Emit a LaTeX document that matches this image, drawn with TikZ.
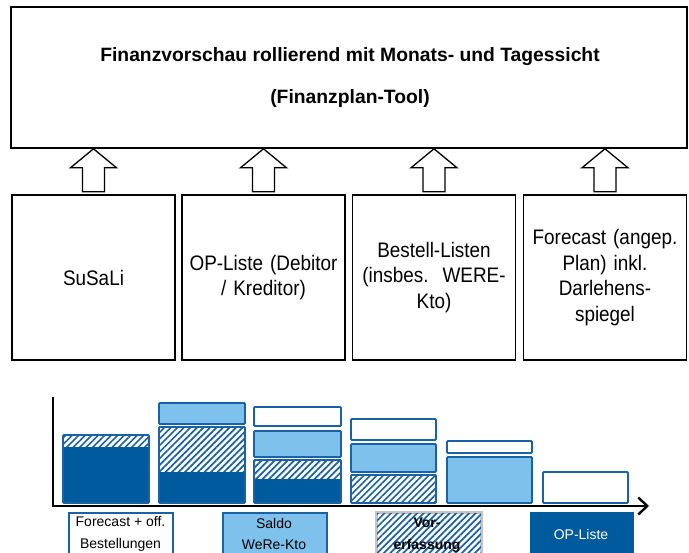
\documentclass[tikz,border=0pt]{standalone}
\usepackage{fontspec}
\setmainfont{Liberation Sans}
\newfontfamily\condfont[FakeStretch=0.9]{Liberation Sans}
\newcommand\srcfont{\condfont\fontsize{21}{25.7}\selectfont\fontdimen2\font=4.8pt\relax}
\usetikzlibrary{patterns,patterns.meta,arrows.meta}
\definecolor{dblue}{HTML}{005A9E}
\definecolor{lblue}{HTML}{7DC1EC}
\definecolor{bblue}{HTML}{1A62A6}
\definecolor{hgray}{HTML}{C4C4C4}
\tikzset{
  topbox/.style={draw=black, line width=1.6pt, minimum width=676pt, minimum height=141pt, inner sep=0pt},
  srcbox/.style={draw=black, line width=1.6pt, minimum width=163pt, minimum height=165pt, inner sep=0pt, text width=155pt, align=center, font=\srcfont},
  uparrow/.style={draw=black, line width=1.3pt, fill=white, line join=miter},
  barline/.style={draw=bblue, line width=1.8pt, rounded corners=1pt},
  hatch/.style={pattern={Lines[angle=45,distance=4.6pt,line width=1.7pt]}, pattern color=bblue},
  legbox/.style={minimum width=104pt, minimum height=50pt, inner sep=0pt, line width=1.8pt},
  legtext/.style={font=\fontsize{14}{21.5}\selectfont, align=center, inner sep=0pt},
  titletext/.style={font=\fontsize{19.3}{22}\selectfont\bfseries, inner sep=0pt},
  axis/.style={draw=black, line width=2.4pt}
}
\begin{document}
\begin{tikzpicture}[x=1pt,y=-1pt]
\useasboundingbox (0,0) rectangle (689,553);
\clip (0,0) rectangle (689,553);
\fill[white] (0,0) rectangle (689,553);

% top box
\node[topbox] (top) at (349,77.5) {};
\node[titletext] (t1) at (350,57) {Finanzvorschau rollierend mit Monats- und Tagessicht};
\node[titletext] (t2) at (350,99) {(Finanzplan-Tool)};

% source boxes
\node[srcbox] (b1) at (93.5,277.5) {SuSaLi};
\node[srcbox] (b2) at (263.5,277.5) {OP-Liste (Debitor\\/ Kreditor)};
\node[srcbox] (b3) at (434,277.5) {Bestell-Listen\\(insbes.\ \ WERE-\\Kto)};
\node[srcbox] (b4) at (605,277.5) {Forecast (angep.\\Plan) inkl.\\Darlehens-\\spiegel};

% block arrows
\foreach \n in {b1,b2,b3,b4}{
  \path (top.south -| \n.north) coordinate (tip\n);
  \draw[uparrow] (tip\n) -- ++(23,19) -- ++(-12,0) -- ++(0,24) -- ++(-22,0) -- ++(0,-24) -- ++(-12,0) -- cycle;
}

% chart bars
% bar 1
\fill[dblue] (63,447) rectangle (149,503);
\fill[white] (63,435) rectangle (149,447);
\fill[hatch] (63,435) rectangle (149,447);
\draw[barline] (63,435) rectangle (149,503);
% bar 2
\fill[lblue] (159,403) rectangle (245,424);
\draw[barline] (159,403) rectangle (245,424);
\fill[dblue] (159,472) rectangle (245,503);
\fill[white] (159,427) rectangle (245,472);
\fill[hatch] (159,427) rectangle (245,472);
\draw[barline] (159,427) rectangle (245,503);
% bar 3
\draw[barline, fill=white] (254,407) rectangle (341,426);
\draw[barline, fill=lblue] (254,431) rectangle (341,457);
\fill[dblue] (254,479) rectangle (341,503);
\fill[white] (254,460) rectangle (341,479);
\fill[hatch] (254,460) rectangle (341,479);
\draw[barline] (254,460) rectangle (341,503);
% bar 4
\draw[barline, fill=white] (351,419) rectangle (436,440);
\draw[barline, fill=lblue] (351,444) rectangle (436,472);
\fill[white] (351,475) rectangle (436,503);
\fill[hatch] (351,475) rectangle (436,503);
\draw[barline] (351,475) rectangle (436,503);
% bar 5
\draw[barline, fill=white] (447,441) rectangle (532,453);
\draw[barline, fill=lblue] (447,457) rectangle (532,503);
% bar 6
\draw[barline, fill=white] (543,472) rectangle (628,503);

% axes
\coordinate (ytop) at (53,397);
\coordinate (orig) at (53,506);
\coordinate (xend) at (649,506);
\draw[axis, -{Straight Barb[length=9pt,width=17pt,line width=2.4pt]}] (ytop) -- (orig) -- (xend);

% legend
\node[legbox, draw=bblue, fill=white, anchor=north west] (l1) at (68,512) {};
\node[legtext] (l1t) at (120.5,534) {Forecast + off.\\Bestellungen};
\node[legbox, draw=bblue, fill=lblue, anchor=north west] (l2) at (222,512) {};
\node[legtext] (l2t) at (274,534) {Saldo\\WeRe-Kto};
\node[legbox, draw=hgray, fill=white, anchor=north west] (l3) at (376,512) {};
\fill[hatch] (l3.north west) rectangle (l3.south east);
\draw[hgray, line width=1.8pt] (l3.north west) rectangle (l3.south east);
\node[legtext, font=\fontsize{14}{21.5}\selectfont\bfseries] (l3t) at (427,535) {Vor-\\erfassung};
\node[legbox, fill=dblue, anchor=north west] (l4) at (529,511) {};
\node[legtext, text=white] (l4t) at (581,534) {OP-Liste};
\end{tikzpicture}
\end{document}
